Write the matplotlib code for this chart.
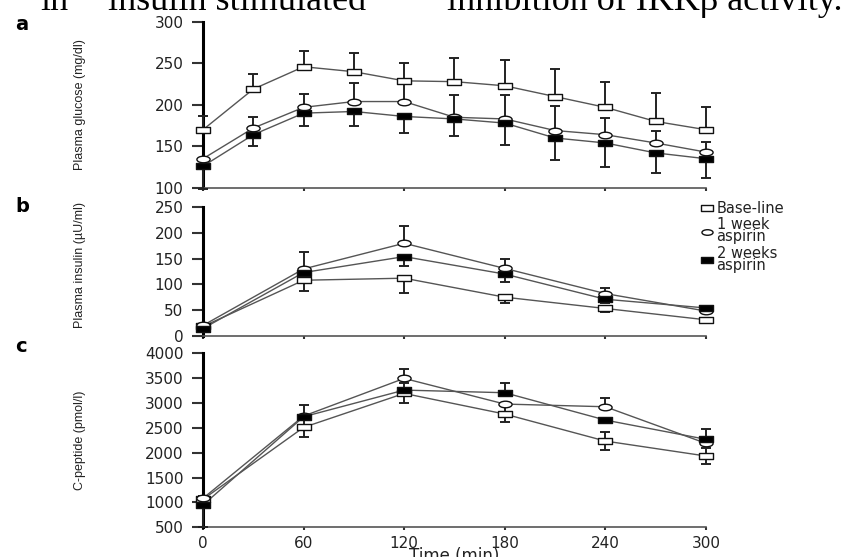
import matplotlib
matplotlib.use("Agg")
import matplotlib.pyplot as plt
from matplotlib import font_manager
from matplotlib.path import Path
from matplotlib.transforms import Affine2D
from matplotlib.lines import Line2D

# ---- data ----
# a: plasma glucose (mg/dl)
t_glu = [0, 30, 60, 90, 120, 150, 180, 210, 240, 270, 300]
glu_base = [170, 219, 246, 240, 229, 228, 223, 210, 197, 180, 170]
glu_base_up = [16, 18, 19, 23, 22, 28, 31, 33, 30, 34, 28]
glu_wk1 = [135, 172, 197, 204, 204, 185, 183, 169, 164, 154, 143]
glu_wk1_up = [0, 13, 16, 22, 22, 27, 29, 30, 20, 15, 12]
glu_wk2 = [126, 164, 190, 192, 186, 183, 178, 160, 154, 142, 135]
glu_wk2_dn = [27, 14, 16, 18, 20, 21, 27, 27, 29, 24, 23]

# b: plasma insulin (uU/ml)
t_ins = [0, 60, 120, 180, 240, 300]
ins_base = [18, 108, 112, 75, 53, 31]
ins_base_dn = [4, 21, 28, 12, 6, 3]
ins_wk1 = [20, 130, 180, 131, 82, 48]
ins_wk1_up = [3, 33, 33, 18, 11, 3]
ins_wk2 = [14, 123, 154, 120, 71, 54]
ins_wk2_dn = [3, 8, 18, 16, 8, 3]

# c: C-peptide (pmol/l)
t_cp = [0, 60, 120, 180, 240, 300]
cp_base = [1063, 2510, 3193, 2778, 2235, 1934]
cp_base_err = [60, 190, 200, 155, 185, 160]
cp_wk1 = [1083, 2738, 3495, 2979, 2925, 2189]
cp_wk1_up = [40, 220, 180, 0, 170, 0]
cp_wk2 = [949, 2724, 3260, 3207, 2657, 2270]
cp_wk2_dn = [440, 0, 0, 0, 0, 0]
cp_wk2_up = [0, 0, 0, 190, 0, 200]

x_ticks = [0, 60, 120, 180, 240, 300]
labels = ["Base-line", "1 week\naspirin", "2 weeks\naspirin"]

# wide markers (the original scan is stretched sideways)
RECT = Path([(-1, -0.5), (1, -0.5), (1, 0.5), (-1, 0.5), (-1, -0.5)], closed=True)
ELL = Path.unit_circle().transformed(Affine2D().scale(1, 0.5))
STYLES = [(RECT, "white"), (ELL, "white"), (RECT, "black")]

TICK_SIZE = 11
TICK_COLOR = "#222222"


def has_font(name):
    try:
        font_manager.findfont(font_manager.FontProperties(family=name),
                              fallback_to_default=False)
        return True
    except ValueError:
        return False


# narrow face for the rotated axis titles
if has_font("Liberation Sans Narrow"):
    LABEL_FONT, LABEL_SIZE = ["Liberation Sans Narrow", "DejaVu Sans"], 11
else:
    LABEL_FONT, LABEL_SIZE = ["Liberation Sans", "DejaVu Sans"], 9


def draw_series(ax, t, y, lo, hi, style):
    marker, face = style
    ax.errorbar(t, y, yerr=[lo, hi], fmt="none", ecolor="#222222",
                elinewidth=1.4, capsize=3.5, capthick=1.4, zorder=3, clip_on=False)
    ax.plot(t, y, color="#555555", lw=1.0, zorder=4, clip_on=False)
    ax.plot(t, y, ls="none", marker=marker, ms=9.5, mfc=face, mec="#111111",
            mew=1.0, zorder=5, clip_on=False)


def style_axes(ax, ylim, yticks, ylabel, label_y, show_x=False):
    ax.set_xlim(0, 300)
    ax.set_ylim(*ylim)
    ax.set_yticks(yticks)
    ax.set_xticks(x_ticks)
    for s in ("top", "right"):
        ax.spines[s].set_visible(False)
    ax.spines["left"].set_linewidth(2.2)
    ax.spines["left"].set_color("black")
    ax.spines["bottom"].set_linewidth(1.2)
    ax.spines["bottom"].set_color("#555555")
    ax.tick_params(axis="y", length=8, width=1.5, direction="out", pad=6,
                   labelsize=TICK_SIZE, labelcolor=TICK_COLOR, color="#333333")
    ax.tick_params(axis="x", length=2.5, width=1.5, direction="out", pad=4,
                   labelsize=TICK_SIZE, labelcolor=TICK_COLOR,
                   labelbottom=show_x, color="#333333")
    ax.set_ylabel(ylabel, family=LABEL_FONT, fontsize=LABEL_SIZE, color="#222222")
    ax.yaxis.set_label_coords(-0.233, label_y)


fig = plt.figure(figsize=(8.41, 5.57), dpi=100)
left, width = 0.2414, 0.598
ax_a = fig.add_axes([left, 0.663, width, 0.2975])
ax_b = fig.add_axes([left, 0.3973, width, 0.2305])
ax_c = fig.add_axes([left, 0.0533, width, 0.3124])

# panel a
draw_series(ax_a, t_glu, glu_base, [0] * len(t_glu), glu_base_up, STYLES[0])
draw_series(ax_a, t_glu, glu_wk1, [0] * len(t_glu), glu_wk1_up, STYLES[1])
draw_series(ax_a, t_glu, glu_wk2, glu_wk2_dn, [0] * len(t_glu), STYLES[2])
style_axes(ax_a, (100, 300), [100, 150, 200, 250, 300], "Plasma glucose (mg/dl)", 0.5)

# panel b
draw_series(ax_b, t_ins, ins_base, ins_base_dn, [0] * len(t_ins), STYLES[0])
draw_series(ax_b, t_ins, ins_wk1, [0] * len(t_ins), ins_wk1_up, STYLES[1])
draw_series(ax_b, t_ins, ins_wk2, ins_wk2_dn, [0] * len(t_ins), STYLES[2])
style_axes(ax_b, (0, 250), [0, 50, 100, 150, 200, 250], "Plasma insulin (\u00b5U/ml)", 0.55)

# panel c
draw_series(ax_c, t_cp, cp_base, cp_base_err, cp_base_err, STYLES[0])
draw_series(ax_c, t_cp, cp_wk1, [0] * len(t_cp), cp_wk1_up, STYLES[1])
draw_series(ax_c, t_cp, cp_wk2, cp_wk2_dn, cp_wk2_up, STYLES[2])
style_axes(ax_c, (500, 4000), list(range(500, 4001, 500)), "C-peptide (pmol/l)", 0.5, show_x=True)
ax_c.set_xlabel("Time (min)", fontsize=12, color="#222222", labelpad=-3)

# legend next to panel b
handles = [Line2D([], [], ls="none", marker=m, ms=8, mfc=f, mec="#111111", mew=1.0)
           for m, f in STYLES]
leg = ax_b.legend(handles, labels, loc="upper left", bbox_to_anchor=(702 / 841, 1 - 201 / 557),
                  bbox_transform=fig.transFigure, frameon=False, borderpad=0, borderaxespad=0,
                  handlelength=0.7, handletextpad=0.3, labelspacing=0.1,
                  prop=dict(family="DejaVu Sans", size=10.5))
for txt in leg.get_texts():
    txt.set_linespacing(0.75)
    txt.set_color("#222222")

# panel letters
for letter, y in (("a", 1 - 25 / 557), ("b", 1 - 206 / 557), ("c", 1 - 346 / 557)):
    fig.text(0.018, y, letter, fontsize=14, fontweight="bold", va="center", ha="left")

# clipped line of body text above the figure
for x, s in ((40, "in"), (108, "insulin stimulated"), (447, "inhibition of IKK\u03b2 activity.")):
    fig.text(x / 841, 1 - 10 / 557, s, family="Liberation Serif", fontsize=26,
             va="baseline", ha="left")

fig.savefig("out.png", dpi=100)
